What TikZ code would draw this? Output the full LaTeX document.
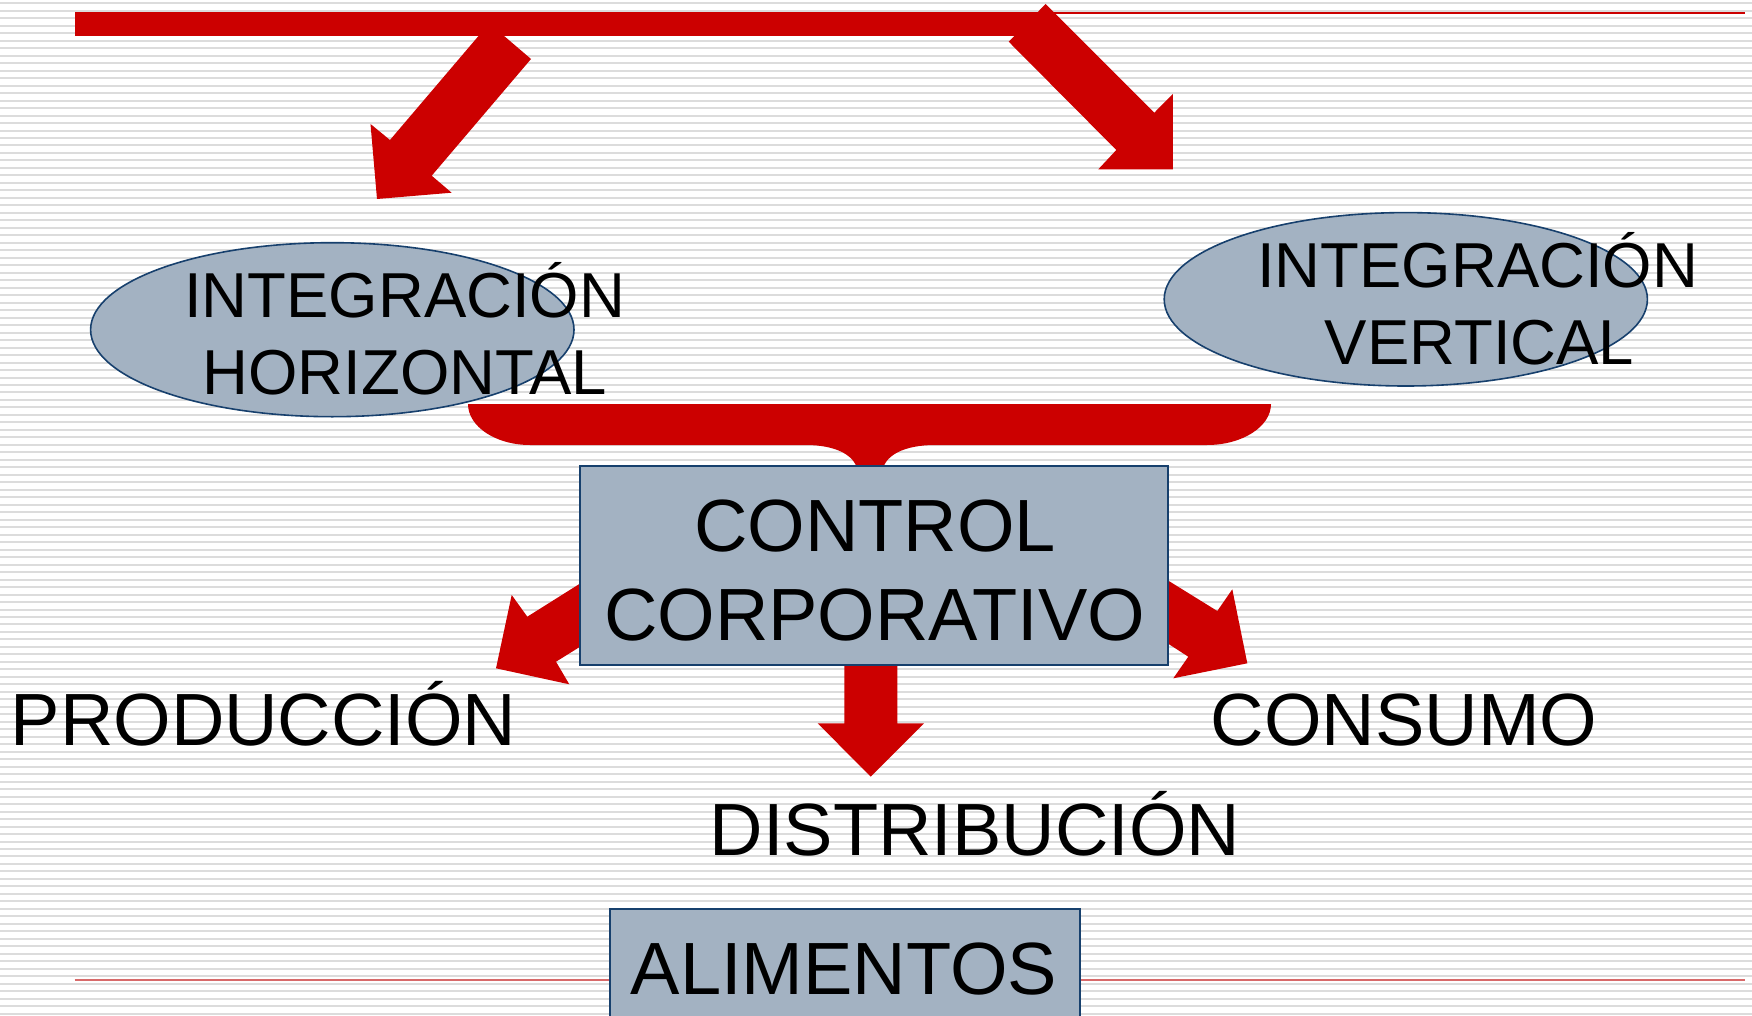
\documentclass[tikz,border=0pt]{standalone}
\usepackage{fontspec}
\setmainfont{Liberation Sans}
\usetikzlibrary{shapes.geometric}
\definecolor{arrowred}{HTML}{CC0000}
\definecolor{pinkline}{HTML}{D86A6A}
\definecolor{stripegray}{HTML}{DCDCDC}
\definecolor{shapefill}{HTML}{A3B2C2}
\definecolor{shapeedge}{HTML}{17406D}
\tikzset{
  redshape/.style={fill=arrowred, draw=none},
  oval/.style={ellipse, draw=shapeedge, line width=1.6pt, fill=shapefill, inner sep=0pt},
  panel/.style={rectangle, draw=shapeedge, line width=2pt, fill=shapefill, inner sep=0pt},
  bigtxt/.style={inner sep=0pt, anchor=base, font=\fontsize{74}{88}\selectfont},
  ovaltxt/.style={inner sep=0pt, anchor=base, font=\fontsize{63.5}{76}\selectfont},
}
\begin{document}
\begin{tikzpicture}[x=1pt, y=-1pt]
\useasboundingbox (0,0) rectangle (1752,1016);
\fill[white] (0,0) rectangle (1752,1016);
% background stripes
\foreach \i in {0,...,135} {
  \fill[stripegray] (0,{3.3+\i*7.484-1}) rectangle (1752,{3.3+\i*7.484+1});
}
% thin lines
\draw[arrowred, line width=2pt] (1052,12.7) -- (1745,12.7);
\draw[pinkline, line width=2pt] (74.6,980) -- (1745,980);
% top arrows
\fill[redshape] (489.3,23.3) -- (531,59) -- (431.7,175.7) -- (451.6,192.7) -- (377,199) -- (370.5,124) -- (390,140) -- cycle;
\fill[redshape] (1045.6,4) -- (1154.3,112.7) -- (1172.8,94) -- (1172.8,169.3) -- (1098.3,169.3) -- (1116.3,150) -- (1008.7,41.7) -- cycle;
\fill[redshape] (74.6,11.7) rectangle (1045,35.7);
% ellipses
\node[oval, minimum width=483.4pt, minimum height=174pt] (ih) at (332.3,329.7) {};
\node[oval, minimum width=483.2pt, minimum height=173.4pt] (iv) at (1405.8,299.3) {};
\node[ovaltxt] (ih1) at (404.7,317.7) {INTEGRACIÓN};
\node[ovaltxt] (ih2) at (404.8,394) {HORIZONTAL};
\node[ovaltxt] (iv1) at (1477.6,287.3) {INTEGRACIÓN};
\node[ovaltxt] (iv2) at (1479.6,364) {VERTICAL};
% brace
\fill[redshape] (468,404) -- (1271,404)
  .. controls (1271,426.6) and (1242.3,445) .. (1207,445)
  -- (935,445)
  .. controls (905,445) and (882,455) .. (882,475)
  -- (858,475)
  .. controls (858,455) and (835,445) .. (806,445)
  -- (530,445)
  .. controls (495.8,445) and (468,426.6) .. (468,404) -- cycle;
% lower arrows
\fill[redshape] (600.5,570.7) -- (527.3,616.7) -- (511.7,595) -- (496,668.3) -- (569.3,684.3) -- (556,661.7) -- (600.5,634) -- cycle;
\fill[redshape] (1147,567.5) -- (1217.3,611) -- (1232.3,589.3) -- (1247.3,663.3) -- (1173.3,678.3) -- (1188.3,656.7) -- (1147,630) -- cycle;
\fill[redshape] (844.3,655) -- (897.3,655) -- (897.3,723.3) -- (924,723.3) -- (870.7,776.7) -- (817.7,723.3) -- (844.3,723.3) -- cycle;
% control box
\node[panel, minimum width=588pt, minimum height=199pt] (cc) at (874,565.5) {};
\node[bigtxt] (cc1) at (875,551.7) {CONTROL};
\node[bigtxt] (cc2) at (874.7,640) {CORPORATIVO};
% outcome labels
\node[bigtxt] (prod) at (263.5,745.5) {PRODUCCIÓN};
\node[bigtxt] (cons) at (1404,745.5) {CONSUMO};
\node[bigtxt] (dist) at (975,855) {DISTRIBUCIÓN};
% alimentos box
\node[panel, minimum width=469.2pt, minimum height=130pt] (al) at (844.9,974.3) {};
\node[bigtxt] (al1) at (844,994) {ALIMENTOS};
\end{tikzpicture}
\end{document}
